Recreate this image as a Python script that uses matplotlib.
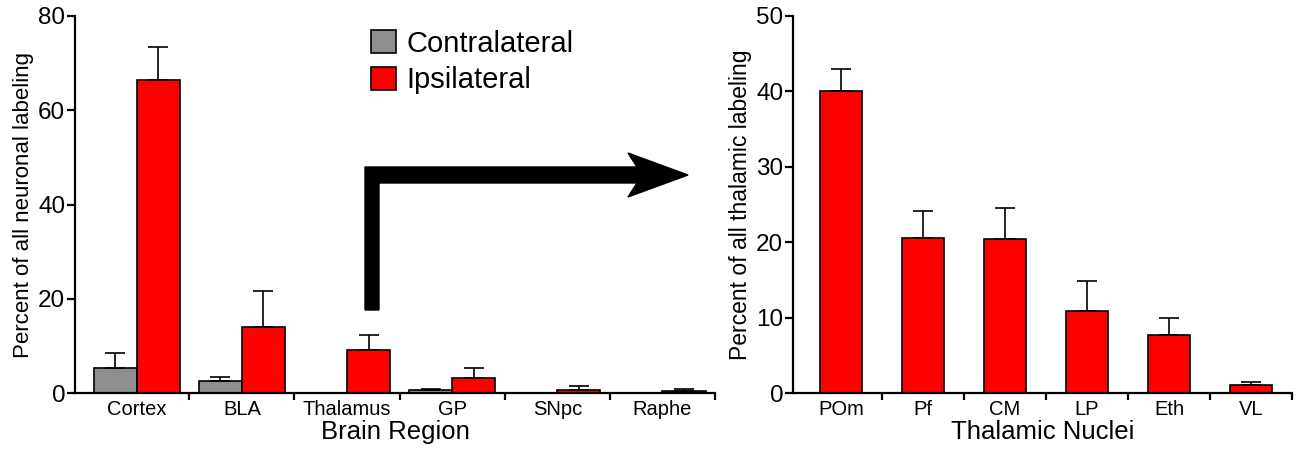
import matplotlib
matplotlib.use("Agg")
import matplotlib.pyplot as plt
from matplotlib.patches import Polygon
import numpy as np

plt.rcParams['font.family'] = ['Liberation Sans', 'DejaVu Sans']

# --- data ---
regions = ['Cortex', 'BLA', 'Thalamus', 'GP', 'SNpc', 'Raphe']
contra = [5.3, 2.5, 0.0, 0.7, 0.0, 0.0]
contra_err = [3.2, 1.0, 0.0, 0.2, 0.0, 0.0]
ipsi = [66.5, 13.9, 9.1, 3.2, 0.7, 0.4]
ipsi_err = [7.0, 7.7, 3.3, 2.0, 0.8, 0.5]

nuclei = ['POm', 'Pf', 'CM', 'LP', 'Eth', 'VL']
thal = [40.1, 20.6, 20.4, 10.9, 7.7, 1.1]
thal_err = [2.9, 3.6, 4.1, 4.0, 2.2, 0.4]

GREY = '#8e8e8e'
RED = '#ff0000'

W, H = 1300, 453
fig = plt.figure(figsize=(W / 100, H / 100), dpi=100)


def style_axes(ax, n, ymax, step):
    ax.set_xlim(-0.587, n - 0.5)
    ax.set_ylim(0, ymax)
    for s in ['top', 'right']:
        ax.spines[s].set_visible(False)
    for s in ['left', 'bottom']:
        ax.spines[s].set_linewidth(1.6)
    ax.set_yticks(np.arange(0, ymax + 1, step))
    ax.set_xticks(np.arange(n))
    ax.set_xticks(np.arange(n) + 0.5, minor=True)
    ax.tick_params(axis='x', which='major', length=0, labelsize=14.5, pad=5)
    ax.tick_params(axis='x', which='minor', length=5, width=1.6, direction='out')
    ax.tick_params(axis='y', length=6, width=1.6, direction='out', labelsize=17.5, pad=1)


# ---- left panel: brain regions ----
ax1 = fig.add_axes([75 / W, (H - 393) / H, (715 - 75) / W, 377 / H])
x = np.arange(len(regions))
bw = 0.41
ekw = dict(elinewidth=1.2, capthick=1.2, ecolor='black')
ax1.bar(x - bw / 2, contra, bw, color=GREY, edgecolor='black', linewidth=1.2,
        label='Contralateral', clip_on=False)
ax1.errorbar(x - bw / 2, contra, yerr=[np.zeros(len(x)), contra_err], fmt='none',
             capsize=7, **ekw)
ax1.bar(x + bw / 2, ipsi, bw, color=RED, edgecolor='black', linewidth=1.2,
        label='Ipsilateral', clip_on=False)
ax1.errorbar(x + bw / 2, ipsi, yerr=[np.zeros(len(x)), ipsi_err], fmt='none',
             capsize=7, **ekw)
style_axes(ax1, len(regions), 80, 20)
ax1.set_xticklabels(regions)
ax1.set_xlabel('Brain Region', fontsize=18.5, labelpad=1)
ax1.set_ylabel('Percent of all neuronal labeling', fontsize=16, labelpad=3)
ax1.legend(loc='upper left', bbox_to_anchor=(0.445, 0.995), frameon=False,
           fontsize=21, handlelength=0.85, handleheight=0.85,
           handletextpad=0.35, labelspacing=0.3, borderaxespad=0)

# ---- right panel: thalamic nuclei ----
ax2 = fig.add_axes([793 / W, (H - 393) / H, (1292 - 793) / W, 377 / H])
x2 = np.arange(len(nuclei))
bw2 = 0.52
ax2.bar(x2, thal, bw2, color=RED, edgecolor='black', linewidth=1.2, clip_on=False)
ax2.errorbar(x2, thal, yerr=[np.zeros(len(x2)), thal_err], fmt='none',
             capsize=7, **ekw)
style_axes(ax2, len(nuclei), 50, 10)
ax2.set_xlim(-0.585, len(nuclei) - 0.5)
ax2.set_xticklabels(nuclei)
ax2.set_xlabel('Thalamic Nuclei', fontsize=18.5, labelpad=1)
ax2.set_ylabel('Percent of all thalamic labeling', fontsize=16.5, labelpad=3)

# ---- connecting arrow (figure pixels, y measured from top) ----
arrow_px = [(365, 310), (379, 310), (379, 183), (637, 183), (628, 197),
            (688, 175), (628, 153), (637, 167), (365, 167)]
arrow = Polygon([(px / W, 1 - py / H) for px, py in arrow_px], closed=True,
                facecolor='black', edgecolor='black', transform=fig.transFigure)
fig.patches.append(arrow)

fig.savefig('out.png', dpi=100)
